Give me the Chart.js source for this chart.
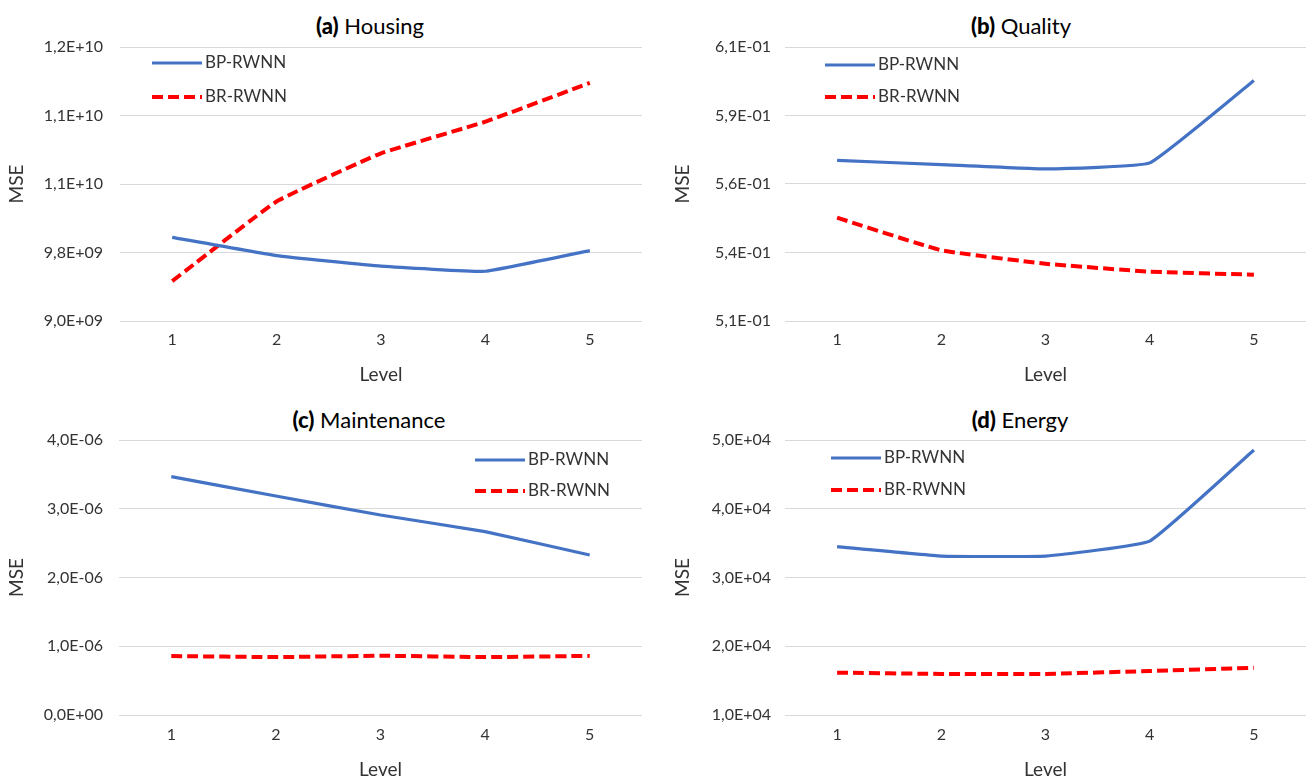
<!DOCTYPE html>
<html>
<head>
<meta charset="utf-8">
<script src="https://cdn.jsdelivr.net/npm/chart.js@4"></script>
<style>
  body { margin: 0; background: #fff; }
  #wrap { position: relative; width: 1306px; height: 781px; overflow: hidden; font-family: Lato, sans-serif; }
  #wrap canvas { position: absolute; }
  .ttl { position: absolute; transform: translate(-50%, -50%); font-size: 22px; white-space: nowrap; color: #000; }
  .ttl b { font-weight: 900; }
</style>
</head>
<body>
<div id="wrap">
  <div class="ttl" style="left:370px;top:25px"><b>(a)</b>&nbsp;Housing</div>
  <div class="ttl" style="left:1021px;top:25px"><b>(b)</b>&nbsp;Quality</div>
  <div class="ttl" style="left:369px;top:419px"><b>(c)</b>&nbsp;Maintenance</div>
  <div class="ttl" style="left:1020px;top:419px"><b>(d)</b>&nbsp;Energy</div>
  <canvas id="c-housing" width="650" height="353" style="left:0;top:37px"></canvas>
  <canvas id="c-quality" width="656" height="353" style="left:650px;top:37px"></canvas>
  <canvas id="c-maintenance" width="650" height="351" style="left:0;top:430px"></canvas>
  <canvas id="c-energy" width="656" height="351" style="left:650px;top:430px"></canvas>
</div>
<script>
// datos
const levels = ['1', '2', '3', '4', '5'];
const seriesNames = ['BP-RWNN', 'BR-RWNN'];

const housingBP = [9.916e9, 9.716e9, 9.600e9, 9.545e9, 9.771e9];
const housingBR = [9.436e9, 10.309e9, 10.836e9, 11.182e9, 11.607e9];
const qualityBP = [0.5686, 0.5671, 0.5655, 0.5677, 0.5978];
const qualityBR = [0.5477, 0.5358, 0.5309, 0.5280, 0.5269];
const maintenanceBP = [3.467e-6, 3.185e-6, 2.909e-6, 2.667e-6, 2.327e-6];
const maintenanceBR = [0.858e-6, 0.842e-6, 0.862e-6, 0.842e-6, 0.860e-6];
const energyBP = [3.448e4, 3.312e4, 3.312e4, 3.530e4, 4.855e4];
const energyBR = [1.616e4, 1.598e4, 1.598e4, 1.640e4, 1.688e4];

// rangos del eje y y etiquetas tal como aparecen
const housingRange = [9e9, 12e9];
const qualityRange = [0.51, 0.61];
const maintenanceRange = [0, 4e-6];
const energyRange = [1e4, 5e4];
const housingTicks = ['9,0E+09', '9,8E+09', '1,1E+10', '1,1E+10', '1,2E+10'];
const qualityTicks = ['5,1E-01', '5,4E-01', '5,6E-01', '5,9E-01', '6,1E-01'];
const maintenanceTicks = ['0,0E+00', '1,0E-06', '2,0E-06', '3,0E-06', '4,0E-06'];
const energyTicks = ['1,0E+04', '2,0E+04', '3,0E+04', '4,0E+04', '5,0E+04'];

const FONT = 'Lato';
const TEXT = '#333';

// leyenda dibujada dentro del área del gráfico
const insideLegend = {
    id: 'insideLegend',
    afterDatasetsDraw(chart, args, opts) {
        var ctx = chart.ctx;
        ctx.save();
        chart.data.datasets.forEach((ds, i) => {
            var y = opts.y + i * opts.gap;
            ctx.beginPath();
            ctx.strokeStyle = ds.borderColor;
            ctx.lineWidth = ds.borderWidth;
            ctx.setLineDash(ds.borderDash || []);
            ctx.moveTo(opts.x, y);
            ctx.lineTo(opts.x + 50, y);
            ctx.stroke();
            ctx.setLineDash([]);
            ctx.fillStyle = TEXT;
            ctx.font = '17px ' + FONT;
            ctx.textBaseline = 'middle';
            ctx.fillText(ds.label, opts.x + 53, y);
        });
        ctx.restore();
    }
};

function makeChart(id, bp, br, range, tickLabels, lay) {
    var step = (range[1] - range[0]) / (tickLabels.length - 1);
    return new Chart(document.getElementById(id), {
        type: 'line',
        data: {
            labels: levels,
            datasets: [{
                label: seriesNames[0],
                data: bp,
                borderColor: '#4472C4',
                borderWidth: 3.2,
                pointRadius: 0,
                tension: 0.1
            }, {
                label: seriesNames[1],
                data: br,
                borderColor: '#FF0000',
                borderWidth: 4,
                borderDash: [11, 5],
                pointRadius: 0,
                tension: 0.1
            }]
        },
        options: {
            responsive: false,
            animation: false,
            layout: { padding: { left: 0, top: 10, right: lay.padRight, bottom: 0 } },
            plugins: {
                legend: { display: false },
                tooltip: { enabled: false },
                insideLegend: lay.legend
            },
            scales: {
                x: {
                    offset: true,
                    grid: { display: false, drawTicks: false },
                    border: { display: false },
                    ticks: { padding: lay.xPad, color: TEXT, font: { family: FONT, size: 16 } },
                    title: { display: true, text: 'Level', color: TEXT, padding: { top: 0, bottom: lay.xTitlePad }, font: { family: FONT, size: 19 } },
                    afterFit: s => { s.height = lay.xHeight; s.paddingLeft = 0; s.paddingRight = 0; }
                },
                y: {
                    min: range[0],
                    max: range[1],
                    grid: { color: '#d9d9d9', lineWidth: 1, drawTicks: false },
                    border: { display: false },
                    afterBuildTicks: s => {
                        s.ticks = tickLabels.map((t, i) => ({ value: range[0] + i * step }));
                    },
                    ticks: {
                        padding: lay.yPad,
                        color: TEXT,
                        font: { family: FONT, size: 16 },
                        callback: (v, i) => tickLabels[i]
                    },
                    title: { display: true, text: 'MSE', color: TEXT, padding: { top: lay.yTitlePad, bottom: 0 }, font: { family: FONT, size: 19 } },
                    afterFit: s => { s.width = lay.yWidth; s.paddingTop = 0; s.paddingBottom = 0; }
                }
            }
        },
        plugins: [insideLegend]
    });
}

makeChart('c-housing', housingBP, housingBR, housingRange, housingTicks,
    { padRight: 8, yWidth: 120, yPad: 17, yTitlePad: 5, xHeight: 69, xPad: 9, xTitlePad: 4, legend: { x: 152, y: 26, gap: 34 } });
makeChart('c-quality', qualityBP, qualityBR, qualityRange, qualityTicks,
    { padRight: 0, yWidth: 135, yPad: 14, yTitlePad: 21, xHeight: 69, xPad: 9, xTitlePad: 4, legend: { x: 175, y: 28, gap: 32 } });
makeChart('c-maintenance', maintenanceBP, maintenanceBR, maintenanceRange, maintenanceTicks,
    { padRight: 8, yWidth: 119, yPad: 16, yTitlePad: 5, xHeight: 66, xPad: 10, xTitlePad: 0, legend: { x: 475, y: 30, gap: 31 } });
makeChart('c-energy', energyBP, energyBR, energyRange, energyTicks,
    { padRight: 0, yWidth: 135, yPad: 14, yTitlePad: 21, xHeight: 66, xPad: 10, xTitlePad: 0, legend: { x: 181, y: 28, gap: 32 } });
</script>
</body>
</html>
